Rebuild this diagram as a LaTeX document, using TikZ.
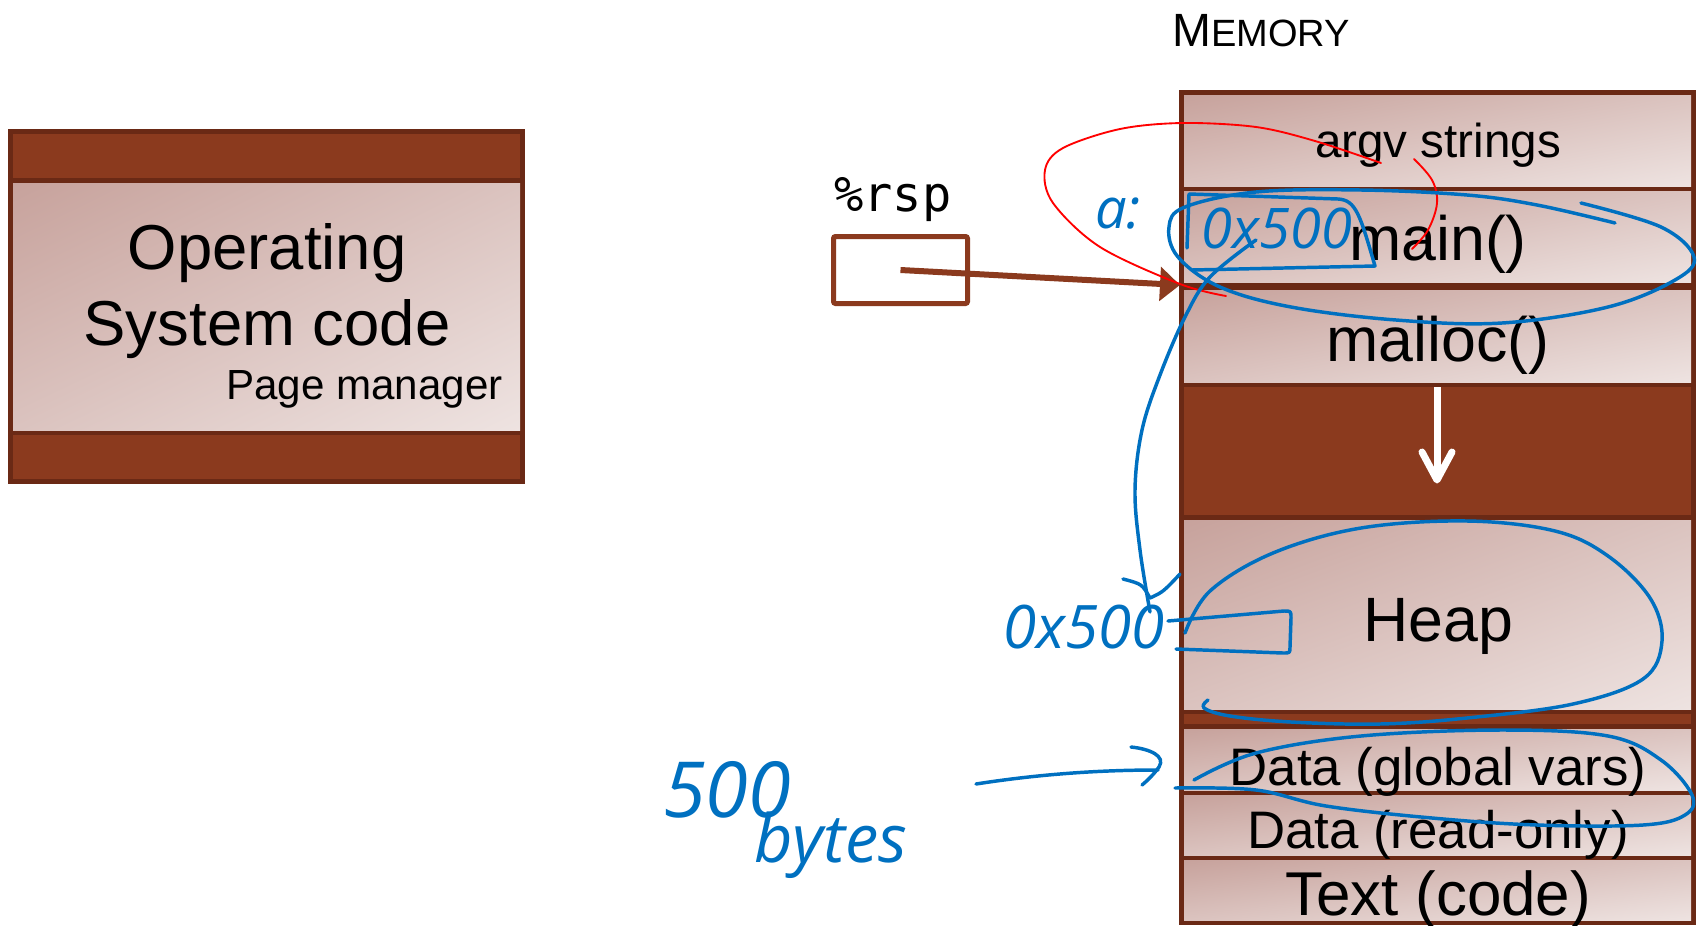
\documentclass[tikz,border=0pt]{standalone}
\usepackage{fontspec}
\setmainfont{Liberation Sans}
\newfontfamily\rspfont{DejaVu Sans Mono}
\newfontfamily\handfont{Open Sans}
\usetikzlibrary{arrows.meta,shadings}
\definecolor{framedark}{HTML}{6A2915}
\definecolor{brownfill}{HTML}{8B3A1E}
\definecolor{cellTL}{HTML}{C7A29C}
\definecolor{cellBR}{HTML}{EEE3E1}
\definecolor{cellMid}{HTML}{DBC3BF}
\definecolor{ink}{HTML}{0070C0}
\definecolor{redink}{HTML}{FF0000}
\newcommand\lightcell[4]{\shade[upper left=cellTL, upper right=cellMid, lower left=cellMid, lower right=cellBR] (#1,#2) rectangle (#3,#4);}
\newcommand\hsz[1]{\handfont\itshape\fontsize{#1}{#1}\selectfont}
\newcommand\lsz[1]{\fontsize{#1}{#1}\selectfont}
\begin{document}
\begin{tikzpicture}[x=0.75pt,y=-0.75pt,
  lbl/.style={inner sep=0pt, anchor=base, text=black},
  ink/.style={draw=ink, line width=2.6pt, line cap=round, line join=round},
  redline/.style={draw=redink, line width=1.4pt, line cap=round, line join=round},
  hand/.style={inner sep=0pt, text=ink},
  rspbox/.style={draw=brownfill, line width=3.75pt, rounded corners=1.5pt, fill=white, minimum width=100.5pt, minimum height=50.25pt, inner sep=0pt},
  rsparrow/.style={draw=brownfill, line width=4.5pt, -{Triangle[length=15pt,width=25pt]}},
  whiteshaft/.style={draw=white, line width=5.25pt},
  whitehead/.style={draw=white, line width=5.25pt, line cap=round, line join=round},
]
\useasboundingbox (0,0) rectangle (1702,925);

% ---------- Operating system box ----------
\fill[framedark] (8,129) rectangle (525,484);
\fill[brownfill] (13,134) rectangle (520,178);
\lightcell{13}{183}{520}{430}
\fill[brownfill] (13,435) rectangle (520,479);
\node[lbl, font=\lsz{47.6}] (os1) at (267,269) {Operating};
\node[lbl, font=\lsz{47.6}] (os2) at (267,345) {System code};
\node[lbl, anchor=base east, font=\lsz{31.6}] (pm) at (503,399) {Page manager};

% ---------- Memory column ----------
\node[lbl, anchor=base west] (memtitle) at (1172,46) {\lsz{35}M\lsz{28.5}EMORY};
\fill[framedark] (1179,90) rectangle (1696,925);
\lightcell{1184}{95}{1691}{186}
\lightcell{1184}{191}{1691}{282}
\lightcell{1184}{290}{1691}{382}
\fill[brownfill] (1184,387) rectangle (1691,515);
\lightcell{1184}{520}{1691}{709}
\fill[brownfill] (1184,714) rectangle (1691,724);
\lightcell{1184}{729}{1691}{790}
\lightcell{1184}{795}{1691}{855}
\lightcell{1184}{860}{1691}{920}

\node[lbl, font=\lsz{35.7}] (argv) at (1438,157) {argv strings};
\node[lbl, font=\lsz{47}] (main) at (1438,260) {main()};
\node[lbl, font=\lsz{47}] (malloc) at (1438,361) {malloc()};
\node[lbl, font=\lsz{47}] (heap) at (1438,641) {Heap};
\node[lbl, font=\lsz{39.6}] (dglob) at (1438,785) {Data (global vars)};
\node[lbl, font=\lsz{39.6}] (dro) at (1438,848) {Data (read-only)};
\node[lbl, font=\lsz{46.4}] (textcode) at (1438,915) {Text (code)};

\coordinate (wa1) at (1437,387);
\coordinate (wa2) at (1437,480);
\coordinate (wl) at (1422,452);
\coordinate (wr) at (1452,452);
\draw[whiteshaft] (wa1) -- (wa2);
\draw[whitehead] (wl) -- (wa2) -- (wr);

% ---------- %rsp register ----------
\node[lbl, anchor=base west, font=\rspfont\lsz{36.5}] (rsplabel) at (834,211) {\%rsp};
\node[rspbox] (rsp) at (900.5,270) {};
\coordinate (stacktop) at (1180,285);
\draw[rsparrow] (rsp.center) -- (stacktop);

% ---------- red annotation ----------
\draw[redline] plot[smooth, tension=0.55] coordinates {(1226,296) (1180,284) (1100,247) (1053,203) (1045,170) (1063,148) (1120,129) (1183,123) (1256,127) (1315,141) (1381,163)};
\draw[redline] plot[smooth, tension=0.6] coordinates {(1414,159) (1432,180) (1437,203) (1428,230) (1412,249)};

% ---------- blue annotations ----------
\node[hand, font=\hsz{42}] (alabel) at (1118,214) {a:};
\node[hand, font=\hsz{42}] (addr1) at (1277,228) {0x500};
\draw[ink] (1187,248) -- (1189,194) -- (1338,199) .. controls (1356,200) and (1360,215) .. (1375,266) -- (1192,270);
\draw[ink] plot[smooth, tension=0.6] coordinates {(1615,223) (1537,205) (1467,195) (1361,190) (1256,192) (1185,207) (1169,227) (1178,257) (1220,287) (1291,307) (1396,320) (1502,323) (1608,307) (1675,280) (1694,257) (1661,227) (1581,203)};

\coordinate (ptrstart) at (1256,240);
\coordinate (ptrend) at (1150,612);
\draw[ink] plot[smooth, tension=0.6] coordinates {(ptrstart) (1210,277) (1185,317) (1160,375) (1142,430) (1135,490) (1140,550) (ptrend)};
\draw[ink] (1123,579) .. controls (1142,584) .. (1150,598) .. controls (1163,592) .. (1180,574);
\node[hand, font=\hsz{45}] (addr2) at (1084,627) {0x500};
\draw[ink] (1168,621) -- (1284,611) .. controls (1291,611) .. (1291,618) -- (1290,647) .. controls (1290,653) .. (1283,653) -- (1176,649);
\draw[ink] plot[smooth, tension=0.6] coordinates {(1208,700) (1204,708) (1230,716) (1291,722) (1380,724) (1467,718) (1573,704) (1643,679) (1662,641) (1650,598) (1608,556) (1555,531) (1467,521) (1361,528) (1273,553) (1210,591) (1185,633)};
\draw[ink] plot[smooth, tension=0.6] coordinates {(1194,780) (1256,753) (1361,736) (1502,730) (1608,736) (1661,760) (1692,795) (1685,815) (1643,825) (1537,825) (1432,818) (1326,806) (1256,790) (1175,788)};

\node[hand, font=\hsz{58}] (n500) at (727,790) {500};
\node[hand, anchor=base, font=\hsz{50}] (bytes) at (831,862) {bytes};
\coordinate (barrow1) at (976,784);
\coordinate (barrow2) at (1158,770);
\draw[ink] (barrow1) .. controls (1040,774) and (1100,770) .. (barrow2);
\draw[ink] (1131,747) .. controls (1150,749) and (1166,756) .. (1159,767) .. controls (1154,774) and (1148,780) .. (1142,785);
\end{tikzpicture}
\end{document}
